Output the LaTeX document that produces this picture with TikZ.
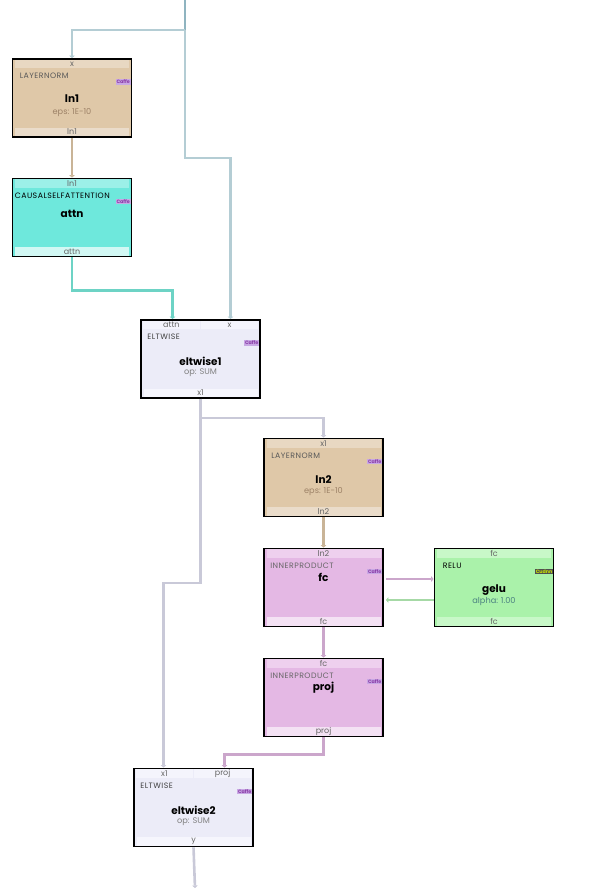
\documentclass[tikz,border=0pt]{standalone}
\usepackage{fontspec}
\setmainfont{Poppins}
\newfontfamily\kindfont[LetterSpace=6]{Poppins}
\usetikzlibrary{arrows.meta,positioning,calc}

\definecolor{lnfill}{HTML}{DFC8A8}
\definecolor{topln}{HTML}{E8D8C2}
\definecolor{botln}{HTML}{EADCCA}
\definecolor{attnfill}{HTML}{6EE8DC}
\definecolor{topattn}{HTML}{9CF0E8}
\definecolor{botattn}{HTML}{D2F8F4}
\definecolor{eltfill}{HTML}{ECECF8}
\definecolor{topelt}{HTML}{F4F4FC}
\definecolor{botelt}{HTML}{F6F6FD}
\definecolor{ipfill}{HTML}{E4B8E4}
\definecolor{topip}{HTML}{EED0EE}
\definecolor{botip}{HTML}{F4E2F4}
\definecolor{relufill}{HTML}{AAF2AA}
\definecolor{toprelu}{HTML}{C8F8C8}
\definecolor{botrelu}{HTML}{C8F8C8}
\definecolor{caffebg}{HTML}{C8A8E4}
\definecolor{caffetext}{HTML}{8A3CA8}
\definecolor{cudnnbg}{HTML}{505050}
\definecolor{cudnntext}{HTML}{C8E400}
\definecolor{srcline}{HTML}{8FB4C0}
\definecolor{inline}{HTML}{B4CDD4}
\definecolor{lnline}{HTML}{C9B497}
\definecolor{attnline}{HTML}{6DD3C5}
\definecolor{eltline}{HTML}{C9C9D8}
\definecolor{ipline}{HTML}{CBA6CB}
\definecolor{reluline}{HTML}{A6D9A6}

\tikzset{
  layer/.style={draw=black, line width=1.8pt, minimum width=119pt, minimum height=78pt, inner sep=0pt},
  band/.style={inner sep=0pt, minimum width=114pt, minimum height=8.5pt, text=black!60, font=\fontsize{8}{8.5}\selectfont},
  halfband/.style={band, minimum width=57pt, fill=topelt},
  kind/.style={anchor=west, inner sep=0pt, font=\kindfont\fontsize{7.8}{8.5}\selectfont},
  title/.style={inner sep=0pt, font=\bfseries\fontsize{10.5}{11}\selectfont},
  param/.style={inner sep=0pt, font=\fontsize{8.2}{9}\selectfont},
  badge/.style={anchor=east, inner sep=0.8pt, fill=caffebg, text=caffetext, font=\bfseries\fontsize{4.8}{5}\selectfont},
  wire/.style={line width=2.6pt, -{Triangle[length=2.5pt,width=5.5pt]}}
}

\begin{document}
\begin{tikzpicture}[x=1pt,y=-1pt]
\useasboundingbox (0,0) rectangle (610,888);

% layers
\node[layer, fill=lnfill] (ln1) at (72,98) {};
\node[layer, fill=attnfill] (attn) at (72,217.5) {};
\node[layer, fill=eltfill] (eltwise1) at (200.5,359) {};
\node[layer, fill=lnfill] (ln2) at (323.5,477.5) {};
\node[layer, fill=ipfill] (fc) at (323.5,587.5) {};
\node[layer, fill=relufill] (gelu) at (494,587.5) {};
\node[layer, fill=ipfill] (proj) at (323.5,697.5) {};
\node[layer, fill=eltfill] (eltwise2) at (193.5,807.5) {};

% blob bands
\foreach \n/\c/\i/\o in {ln1/ln/x/ln1, attn/attn/ln1/attn, ln2/ln/x1/ln2, fc/ip/ln2/fc, gelu/relu/fc/fc, proj/ip/fc/proj} {
  \node[band, fill=top\c, anchor=north] (\n-in) at ([yshift=-1.3pt]\n.north) {\i};
  \node[band, fill=bot\c, anchor=south] (\n-out) at ([yshift=1.6pt]\n.south) {\o};
}
\foreach \n/\a/\b/\o in {eltwise1/attn/x/x1, eltwise2/x1/proj/y} {
  \node[halfband, anchor=north east] (\n-ina) at ([xshift=-0.4pt,yshift=-1.3pt]\n.north) {\a};
  \node[halfband, anchor=north west] (\n-inb) at ([xshift=0.4pt,yshift=-1.3pt]\n.north) {\b};
  \node[band, fill=botelt, anchor=south] (\n-out) at ([yshift=1.6pt]\n.south) {\o};
}

% types, names, params
\foreach \n/\dx/\t/\c in {ln1/8/LAYERNORM/black!65, attn/3/CAUSALSELFATTENTION/black, eltwise1/7/ELTWISE/black!75, ln2/8/LAYERNORM/black!65, fc/7/INNERPRODUCT/black!60, gelu/9/RELU/black, proj/7/INNERPRODUCT/black!60, eltwise2/7/ELTWISE/black!75}
  \node[kind, text=\c] (\n-type) at ([xshift=\dx pt,yshift=-18pt]\n.north west) {\t};
\foreach \n/\dy in {ln1/41, attn/36, eltwise1/42.5, ln2/42, fc/30, gelu/42, proj/30, eltwise2/42.5}
  \node[title] (\n-name) at ([yshift=-\dy pt]\n.north) {\n};
\foreach \n/\p/\c in {ln1/{eps: 1E-10}/brown!60!black!70, eltwise1/{op: SUM}/black!50, ln2/{eps: 1E-10}/brown!60!black!70, gelu/{alpha: 1.00}/teal!60!black!70, eltwise2/{op: SUM}/black!50}
  \node[param, text=\c] (\n-param) at ([yshift=-54pt]\n.north) {\p};
\foreach \n in {ln1, attn, eltwise1, ln2, fc, proj, eltwise2}
  \node[badge] (\n-engine) at ([xshift=-1.5pt,yshift=-24pt]\n.north east) {Caffe};
\node[badge, fill=cudnnbg, text=cudnntext] (gelu-engine) at ([xshift=-1pt,yshift=-24pt]gelu.north east) {Cudnn};

% connectors
\coordinate (src) at (185,0);
\coordinate (sink) at (195,888);
\draw[line width=2.6pt, srcline] (src) -- ++(0,30) coordinate (split);
\draw[wire, inline] (split) -| (ln1.north);
\draw[wire, inline] (split) -- ++(0,128) -| ([xshift=30pt]eltwise1.north);
\draw[wire, lnline] (ln1.south) -- (attn.north);
\draw[wire, attnline] (attn.south) -- ++(0,33) -| ([xshift=-28pt]eltwise1.north);
\draw[wire, eltline] (eltwise1.south) -- ++(0,19) -| (ln2.north);
\draw[wire, eltline] (eltwise1.south) -- ++(0,184) -| ([xshift=-30pt]eltwise2.north);
\draw[wire, lnline] (ln2.south) -- (fc.north);
\draw[wire, ipline] ([xshift=2pt,yshift=8.5pt]fc.east) -- ([yshift=8.5pt]gelu.west);
\draw[wire, reluline] ([yshift=-12.5pt]gelu.west) -- ([xshift=2pt,yshift=-12.5pt]fc.east);
\draw[wire, ipline] (fc.south) -- (proj.north);
\draw[wire, ipline] (proj.south) -- ++(0,17) -| ([xshift=31pt]eltwise2.north);
\draw[wire, eltline] (eltwise2.south) -- (sink);

\end{tikzpicture}
\end{document}
